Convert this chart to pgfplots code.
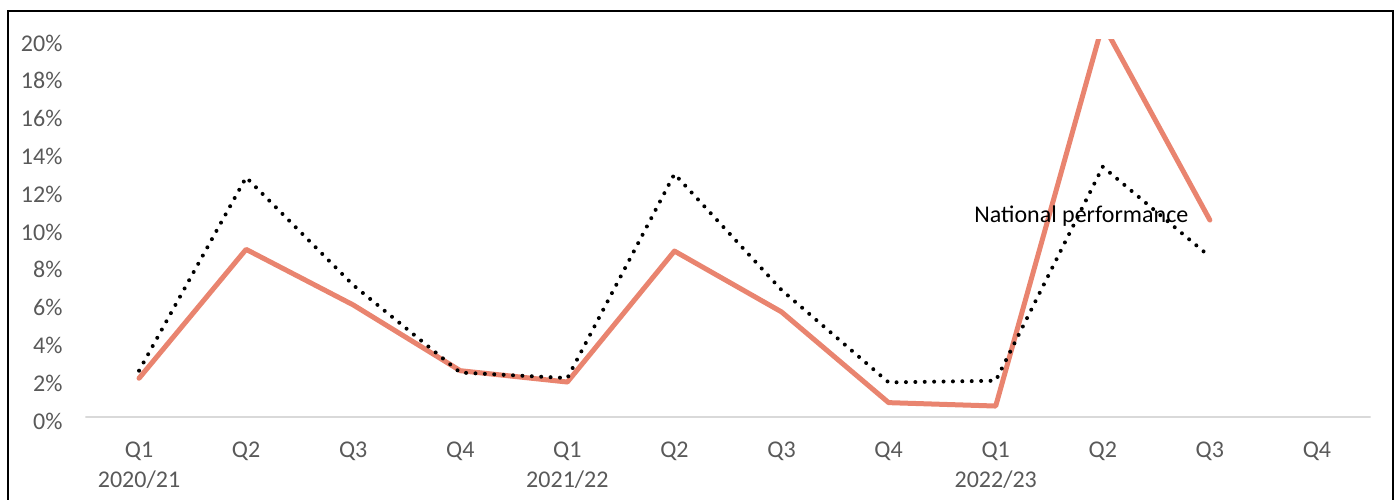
\documentclass[border=0pt]{standalone}
\usepackage{pgfplots}
\pgfplotsset{compat=1.18}
\usepackage{fontspec}
\setmainfont{Carlito}
\definecolor{salmon}{HTML}{E9846F}
\definecolor{ticktext}{HTML}{595959}
\definecolor{axisgray}{HTML}{D9D9D9}

\begin{document}
\begin{tikzpicture}
\path[use as bounding box] (0,0) rectangle (697pt,249.5pt);
% outer frame (open at the bottom)
\draw[line width=1pt] (4pt,-2pt) -- (4pt,244pt) -- (696.5pt,244pt) -- (696.5pt,-2pt);
\begin{axis}[
  at={(42.75pt,41pt)}, anchor=south west,
  scale only axis, width=642.5pt, height=189pt,
  xmin=-0.5, xmax=11.5, ymin=0, ymax=20,
  axis line style={draw=none},
  axis x line*=bottom, axis y line*=left,
  xtick={0,...,11},
  xticklabels={{Q1\\2020/21},Q2,Q3,Q4,{Q1\\2021/22},Q2,Q3,Q4,{Q1\\2022/23},Q2,Q3,Q4},
  ytick={0,2,...,20},
  yticklabels={0\%,2\%,4\%,6\%,8\%,10\%,12\%,14\%,16\%,18\%,20\%},
  major tick length=0pt,
  tick label style={font=\fontsize{12}{15}\selectfont, text=ticktext},
  xticklabel style={align=center, anchor=north, yshift=-9pt},
  yticklabel style={anchor=east, xshift=-8pt, yshift=-2pt},
  clip=true,
]
% horizontal category axis
\draw[axisgray, line width=0.8pt] (axis cs:-0.5,0) -- (axis cs:11.5,0);
% local performance
\addplot[salmon, line width=2.5pt, line join=round, line cap=round] coordinates {
  (0,2.05) (1,8.87) (2,5.93) (3,2.45) (4,1.85) (5,8.78) (6,5.56) (7,0.76) (8,0.58) (9,20.8) (10,10.42)
};
% national performance
\addplot[black, line width=2pt, line cap=round, dash pattern=on 0pt off 4.7pt] coordinates {
  (0,2.45) (1,12.68) (2,6.98) (3,2.35) (4,2.06) (5,12.86) (6,6.72) (7,1.83) (8,1.92) (9,13.24) (10,8.48)
};
\node[font=\fontsize{12}{13}\selectfont, text=black] at (axis cs:8.8,10.63) {National performance};
\end{axis}
\end{tikzpicture}
\end{document}
